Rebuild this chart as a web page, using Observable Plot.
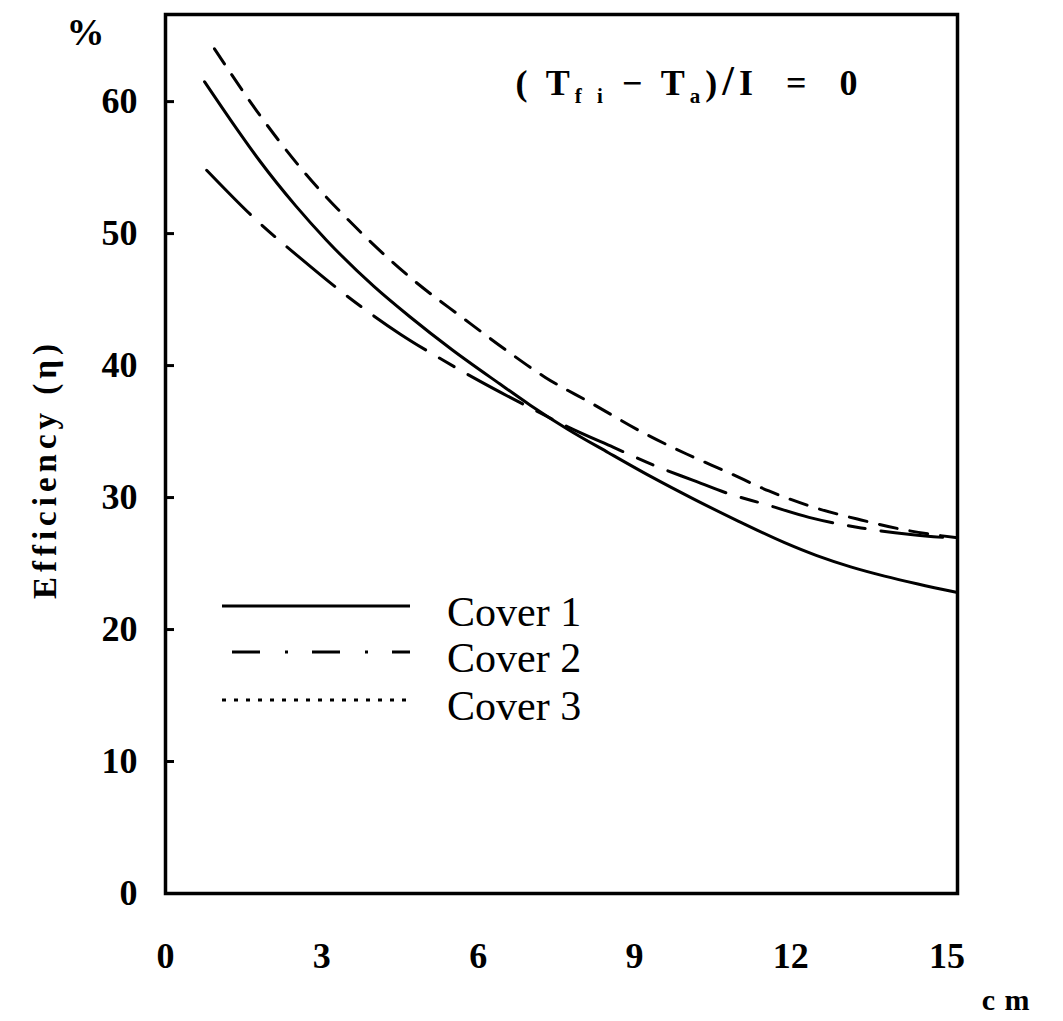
<!DOCTYPE html>
<html><head><meta charset="utf-8">
<script src="https://cdn.jsdelivr.net/npm/d3@7"></script>
<script src="https://cdn.jsdelivr.net/npm/@observablehq/plot@0.6"></script>
<style>
html,body{margin:0;padding:0;background:#fff;}
#wrap{position:relative;width:1063px;height:1021px;}
#legend{position:absolute;left:0;top:0;pointer-events:none;}
</style></head>
<body><div id="wrap"></div>
<script>
// ---- data (thickness in cm vs efficiency in %) ----
const cover1X = [0.75, 1.25, 1.81, 2.5, 3.09, 4.0, 4.69, 5.5, 6.42, 7.0, 7.71, 8.5, 9.31, 10.13, 11.0, 11.87, 12.5, 13.15, 13.8, 14.44, 15.2];
const cover1Y = [61.5, 58.6, 55.5, 52.1, 49.5, 46.0, 43.7, 41.2, 38.6, 37.0, 35.2, 33.4, 31.6, 29.9, 28.2, 26.6, 25.6, 24.75, 24.05, 23.45, 22.8];
const cover2X = [0.79, 1.75, 2.6, 3.44, 4.5, 5.33, 6.04, 7.0, 7.7, 8.6, 9.4, 10.13, 10.8, 11.5, 12.35, 13.35, 14.3, 15.2];
const cover2Y = [54.8, 51.0, 48.1, 45.4, 42.4, 40.4, 38.8, 36.8, 35.4, 33.8, 32.4, 31.3, 30.3, 29.5, 28.5, 27.7, 27.2, 26.9];
const cover3X = [0.94, 1.75, 2.63, 3.67, 4.75, 5.71, 6.56, 7.29, 8.15, 9.27, 10.0, 10.8, 11.58, 12.45, 13.35, 14.25, 15.2];
const cover3Y = [64.0, 59.3, 54.8, 50.4, 46.5, 43.6, 41.1, 39.1, 37.2, 34.7, 33.3, 31.9, 30.5, 29.25, 28.3, 27.5, 26.95];
const seriesNames = ["Cover 1", "Cover 2", "Cover 3"];
const xTicks = [0, 3, 6, 9, 12, 15];
const yTicks = [0, 10, 20, 30, 40, 50, 60];
const annotation = "(Tfi − Ta)/I = 0";
const yLabel = "Efficiency (η)";
const yUnit = "%";
const xUnit = "c m";

const toRows = (xs, ys, name) => xs.map((x, i) => ({x, y: ys[i], series: name}));
const rows1 = toRows(cover1X, cover1Y, seriesNames[0]);
const rows2 = toRows(cover2X, cover2Y, seriesNames[1]);
const rows3 = toRows(cover3X, cover3Y, seriesNames[2]);

const serif = "'Liberation Serif', 'DejaVu Serif', serif";
const dashes = ["none", "62,16,17,16", "18,13"];
const legendDashes = ["none", "28,25,3,24", "4,8"];

const plot = Plot.plot({
  width: 1063,
  height: 1021,
  marginLeft: 165,
  marginRight: 106,
  marginTop: 14,
  marginBottom: 128,
  style: {background: "#fff", color: "#000"},
  x: {domain: [0, 15.2]},
  y: {domain: [0, 66.6]},
  marks: [
    Plot.line(rows1, {x: "x", y: "y", stroke: "#000", strokeWidth: 3, curve: "monotone-x"}),
    Plot.line(rows2, {x: "x", y: "y", stroke: "#000", strokeWidth: 3, curve: "monotone-x", strokeDasharray: dashes[1]}),
    Plot.line(rows3, {x: "x", y: "y", stroke: "#000", strokeWidth: 3, curve: "monotone-x", strokeDasharray: dashes[2]}),
    Plot.frame({stroke: "#000", strokeWidth: 3.5}),
    Plot.axisX({ticks: xTicks, tickSize: 0, tickPadding: 49, label: null,
      fontSize: 36, fontWeight: "bold", fontFamily: serif}),
    Plot.axisY({ticks: yTicks, tickSize: 9, dx: 9, tickPadding: 28, strokeWidth: 3, label: null,
      fontSize: 36, fontWeight: "bold", fontFamily: serif}),
    Plot.text([yLabel], {frameAnchor: "left", textAnchor: "middle", dx: -120, dy: 15, rotate: -90,
      fontSize: 33, fontWeight: "bold", fontFamily: serif}),
    Plot.text([yUnit], {frameAnchor: "top-left", textAnchor: "middle", dx: -80, dy: 4,
      fontSize: 38, fontWeight: "bold", fontFamily: serif}),
    Plot.text([xUnit], {frameAnchor: "bottom-right", dx: 73, dy: 116,
      fontSize: 30, fontWeight: "bold", fontFamily: serif}),
    Plot.text([annotation], {frameAnchor: "top-right", dx: -95, dy: 55, textAnchor: "end",
      fontSize: 36, fontWeight: "bold", fontFamily: serif})
  ]
});
document.getElementById("wrap").appendChild(plot);

// post-process text: letter spacing and subscripts
plot.querySelectorAll("text").forEach(t => {
  if (t.textContent === yLabel) t.setAttribute("letter-spacing", "5");
  if (t.textContent === xUnit) t.setAttribute("letter-spacing", "1");
  if (t.textContent === annotation) {
    t.textContent = "";
    const parts = [
      ["( T", 0, 36], ["f i", 8, 21], [" − T", -8, 36], ["a", 8, 21], [")", -8, 36], ["/", 0, 42], ["I  =  0", 0, 36]
    ];
    for (const [s, dy, fs] of parts) {
      const sp = document.createElementNS("http://www.w3.org/2000/svg", "tspan");
      sp.textContent = s;
      sp.setAttribute("dy", dy);
      sp.setAttribute("font-size", fs);
      t.appendChild(sp);
    }
    t.setAttribute("letter-spacing", "5");
  }
});

// legend (inside the plot area)
const leg = d3.select("#wrap").append("svg").attr("id", "legend").attr("width", 1063).attr("height", 1021);
const legY = [606, 652, 700];
const legX1 = [222, 232, 222];
seriesNames.forEach((name, i) => {
  leg.append("line").attr("x1", legX1[i]).attr("x2", 410).attr("y1", legY[i]).attr("y2", legY[i])
    .attr("stroke", "#000").attr("stroke-width", 3)
    .attr("stroke-dasharray", legendDashes[i]);
  leg.append("text").attr("x", 447).attr("y", legY[i] + 20).text(name)
    .attr("font-family", serif).attr("font-size", 42).attr("fill", "#000");
});
</script>
</body></html>
